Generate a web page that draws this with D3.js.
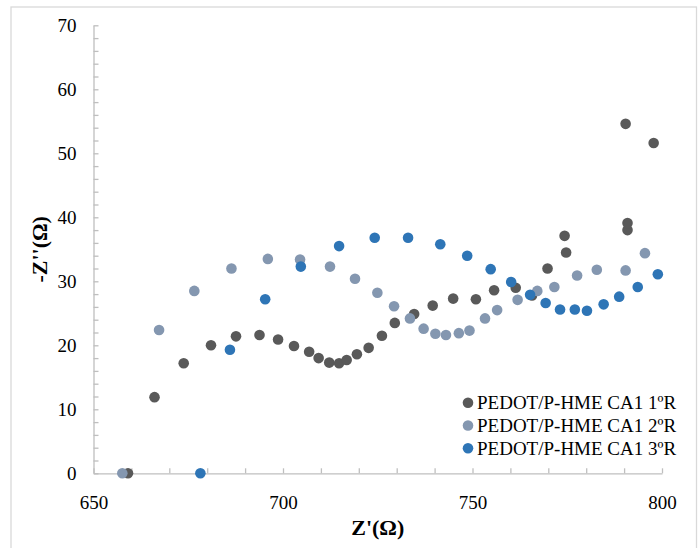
<!DOCTYPE html>
<html>
<head>
<meta charset="utf-8">
<script src="https://cdn.jsdelivr.net/npm/d3@7"></script>
<style>
  html, body { margin: 0; padding: 0; background: #fff; }
  svg { display: block; }
  svg text { font-family: "Liberation Serif", "Times New Roman", serif; }
</style>
</head>
<body>
<svg id="chart" width="698" height="548"></svg>
<script>
// Nyquist data: Z' (Ω) vs -Z'' (Ω) for three repetitions
const seriesNames = ["PEDOT/P-HME CA1 1ºR", "PEDOT/P-HME CA1 2ºR", "PEDOT/P-HME CA1 3ºR"];
const seriesColors = ["#595959", "#8497b0", "#2e75b6"];

const run1Re = [659.1, 666.1, 673.8, 681.0, 687.6, 693.8, 698.7, 702.9, 706.9, 709.4, 712.2, 714.8, 716.8, 719.5, 722.6, 726.1, 729.5, 734.6, 739.5, 744.9, 750.9, 755.7, 761.4, 765.7, 769.8, 774.7, 774.3, 790.9, 790.9, 790.4, 797.8];
const run1Im = [0, 11.9, 17.2, 20.0, 21.4, 21.6, 20.9, 19.9, 19.0, 18.0, 17.3, 17.2, 17.7, 18.6, 19.6, 21.5, 23.5, 24.9, 26.2, 27.3, 27.2, 28.6, 29.0, 27.8, 32.0, 34.5, 37.1, 38.0, 39.1, 54.6, 51.6];

const run2Re = [657.6, 667.3, 676.6, 686.4, 696.0, 704.5, 712.4, 719.0, 724.9, 729.3, 733.5, 737.1, 740.2, 743.0, 746.4, 749.2, 753.3, 756.5, 761.9, 767.1, 771.6, 777.6, 782.8, 790.4, 795.5];
const run2Im = [0, 22.4, 28.5, 32.0, 33.5, 33.4, 32.3, 30.4, 28.2, 26.1, 24.2, 22.6, 21.8, 21.6, 21.9, 22.3, 24.2, 25.5, 27.1, 28.5, 29.1, 30.9, 31.8, 31.7, 34.4];

const run3Re = [678.2, 686.0, 695.3, 704.7, 714.8, 724.2, 733.0, 741.5, 748.6, 754.8, 760.2, 765.2, 769.3, 773.1, 777.0, 780.2, 784.6, 788.7, 793.6, 798.9];
const run3Im = [0, 19.3, 27.2, 32.3, 35.5, 36.8, 36.8, 35.8, 34.0, 31.9, 29.9, 27.9, 26.6, 25.6, 25.6, 25.4, 26.4, 27.6, 29.1, 31.1];

const xTicks = d3.range(650, 801, 10);   // labels every 50
const yTicks = d3.range(0, 71, 2);       // labels every 10

const series = [
  { name: seriesNames[0], color: seriesColors[0], pts: run1Re.map((x, i) => [x, run1Im[i]]) },
  { name: seriesNames[1], color: seriesColors[1], pts: run2Re.map((x, i) => [x, run2Im[i]]) },
  { name: seriesNames[2], color: seriesColors[2], pts: run3Re.map((x, i) => [x, run3Im[i]]) }
];

const FONT = "'Liberation Serif', 'Times New Roman', serif";
const svg = d3.select("#chart");
const W = 698, H = 548;
const plot = { left: 93.5, right: 662, top: 25.3, bottom: 473.3 };

// outer chart frame
svg.append("rect")
  .attr("x", 11).attr("y", 7)
  .attr("width", W - 12.5).attr("height", H)
  .attr("fill", "#fff").attr("stroke", "#d9d9d9").attr("stroke-width", 1.3);

const x = d3.scaleLinear().domain([650, 800]).range([plot.left, plot.right]);
const y = d3.scaleLinear().domain([0, 70]).range([plot.bottom, plot.top]);

const axisColor = "#bfbfbf";

const xAxis = d3.axisBottom(x)
  .tickValues(xTicks)
  .tickFormat(d => d % 50 === 0 ? d : "")
  .tickSizeInner(-5).tickSizeOuter(0).tickPadding(22);

const yAxis = d3.axisLeft(y)
  .tickValues(yTicks)
  .tickFormat(d => d % 10 === 0 ? d : "")
  .tickSizeInner(-5).tickSizeOuter(0).tickPadding(17);

function styleAxis(g) {
  g.attr("font-family", FONT);
  g.select(".domain").attr("stroke", axisColor).attr("stroke-width", 1.3);
  g.selectAll(".tick line").attr("stroke", axisColor).attr("stroke-width", 1.3);
  g.selectAll(".tick text").attr("fill", "#000")
    .attr("font-family", FONT).style("font-size", "19px");
}

svg.append("g").attr("transform", `translate(0,${plot.bottom})`).call(xAxis).call(styleAxis);
svg.append("g").attr("transform", `translate(${plot.left},0)`).call(yAxis).call(styleAxis);

// points, first run drawn underneath
series.forEach(s => {
  svg.append("g").selectAll("circle")
    .data(s.pts)
    .join("circle")
    .attr("cx", d => x(d[0]))
    .attr("cy", d => y(d[1]))
    .attr("r", 5.3)
    .attr("fill", s.color);
});

// axis titles
svg.append("text")
  .attr("x", (plot.left + plot.right) / 2).attr("y", 535)
  .attr("text-anchor", "middle").attr("font-family", FONT)
  .style("font-size", "22px").style("font-weight", "bold")
  .text("Z'(Ω)");

svg.append("text")
  .attr("transform", `translate(47,${(plot.top + plot.bottom) / 2}) rotate(-90)`)
  .attr("text-anchor", "middle").attr("font-family", FONT)
  .style("font-size", "22px").style("font-weight", "bold")
  .text("-Z''(Ω)");

// legend
const legend = svg.append("g").attr("transform", "translate(468,402.7)");
series.forEach((s, i) => {
  const row = legend.append("g").attr("transform", `translate(0,${i * 22.8})`);
  row.append("circle").attr("r", 5.3).attr("fill", s.color);
  row.append("text").attr("x", 9).attr("dy", "0.33em")
    .attr("font-family", FONT).style("font-size", "19px").text(s.name);
});
</script>
</body>
</html>
